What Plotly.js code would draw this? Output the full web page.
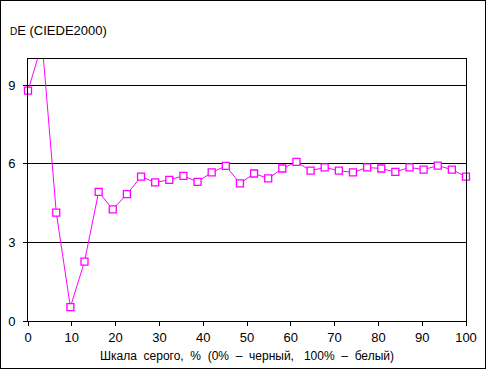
<!DOCTYPE html>
<html>
<head>
<meta charset="utf-8">
<script src="https://cdn.plot.ly/plotly-3.0.1.min.js"></script>
<style>
html,body{margin:0;padding:0;background:#fff;}
#wrap{position:relative;width:487px;height:371px;}
#chart{width:487px;height:371px;}
#frame{position:absolute;left:0;top:0;width:484px;height:367px;border:1px solid #000;pointer-events:none;}
</style>
</head>
<body>
<div id="wrap"><div id="chart"></div><div id="frame"></div></div>
<script>
const grayPercent = [0, 3.23, 6.45, 9.68, 12.9, 16.13, 19.35, 22.58, 25.81, 29.03, 32.26, 35.48, 38.71, 41.94, 45.16, 48.39, 51.61, 54.84, 58.06, 61.29, 64.52, 67.74, 70.97, 74.19, 77.42, 80.65, 83.87, 87.1, 90.32, 93.55, 96.77, 100];
const deltaE = [8.79, 10.6, 4.14, 0.53, 2.27, 4.93, 4.26, 4.84, 5.51, 5.29, 5.39, 5.54, 5.31, 5.67, 5.92, 5.25, 5.63, 5.44, 5.82, 6.07, 5.74, 5.86, 5.74, 5.67, 5.86, 5.82, 5.69, 5.86, 5.78, 5.93, 5.78, 5.51];
const xTicks = [0, 10, 20, 30, 40, 50, 60, 70, 80, 90, 100];
const yTicks = [0, 3, 6, 9];
const yTitle = "<span style='font-size:10px'>D</span>E (CIEDE2000)";
const xTitle = "Шкала  серого,  %  (0%  –  черный,   100%  –  белый)";

const yMax = 10;
const font = {family: "Liberation Sans, Arial, sans-serif", size: 13, color: "#000"};

// hide markers for points outside the visible range (Excel clips them)
const markerOpacity = deltaE.map(v => (v > yMax ? 0 : 1));

Plotly.newPlot("chart", [{
  x: grayPercent,
  y: deltaE,
  type: "scatter",
  mode: "lines+markers",
  cliponaxis: false,
  line: {color: "#FF00FF", width: 1},
  marker: {symbol: "square", size: 7, color: "#FFFFFF", opacity: markerOpacity, line: {color: "#FF00FF", width: 1.3}},
  hoverinfo: "none"
}], {
  width: 487, height: 371,
  margin: {l: 28, r: 21, t: 59, b: 50, pad: 0},
  paper_bgcolor: "#fff", plot_bgcolor: "#fff",
  showlegend: false,
  font: font,
  xaxis: {
    range: [0, 100], tickvals: xTicks, ticktext: xTicks.map(String),
    showgrid: false, zeroline: false,
    showline: true, linecolor: "#000", linewidth: 1, mirror: true,
    ticks: "outside", ticklen: 4, tickcolor: "#000", tickwidth: 1,
    tickfont: font,
    title: {text: xTitle, font: {family: font.family, size: 12, color: "#000"}, standoff: 8}
  },
  yaxis: {
    range: [0, yMax], tickvals: yTicks, ticktext: yTicks.map(String),
    showgrid: true, gridcolor: "#000", gridwidth: 1, zeroline: false,
    showline: true, linecolor: "#000", linewidth: 1, mirror: true,
    ticks: "outside", ticklen: 4, tickcolor: "#000", tickwidth: 1,
    ticklabelstandoff: 5,
    tickfont: font
  },
  annotations: [{
    text: yTitle, xref: "paper", yref: "paper",
    x: -0.045, y: 1.109, xanchor: "left", yanchor: "middle",
    showarrow: false, font: font
  }]
}, {staticPlot: true});
</script>
</body>
</html>
